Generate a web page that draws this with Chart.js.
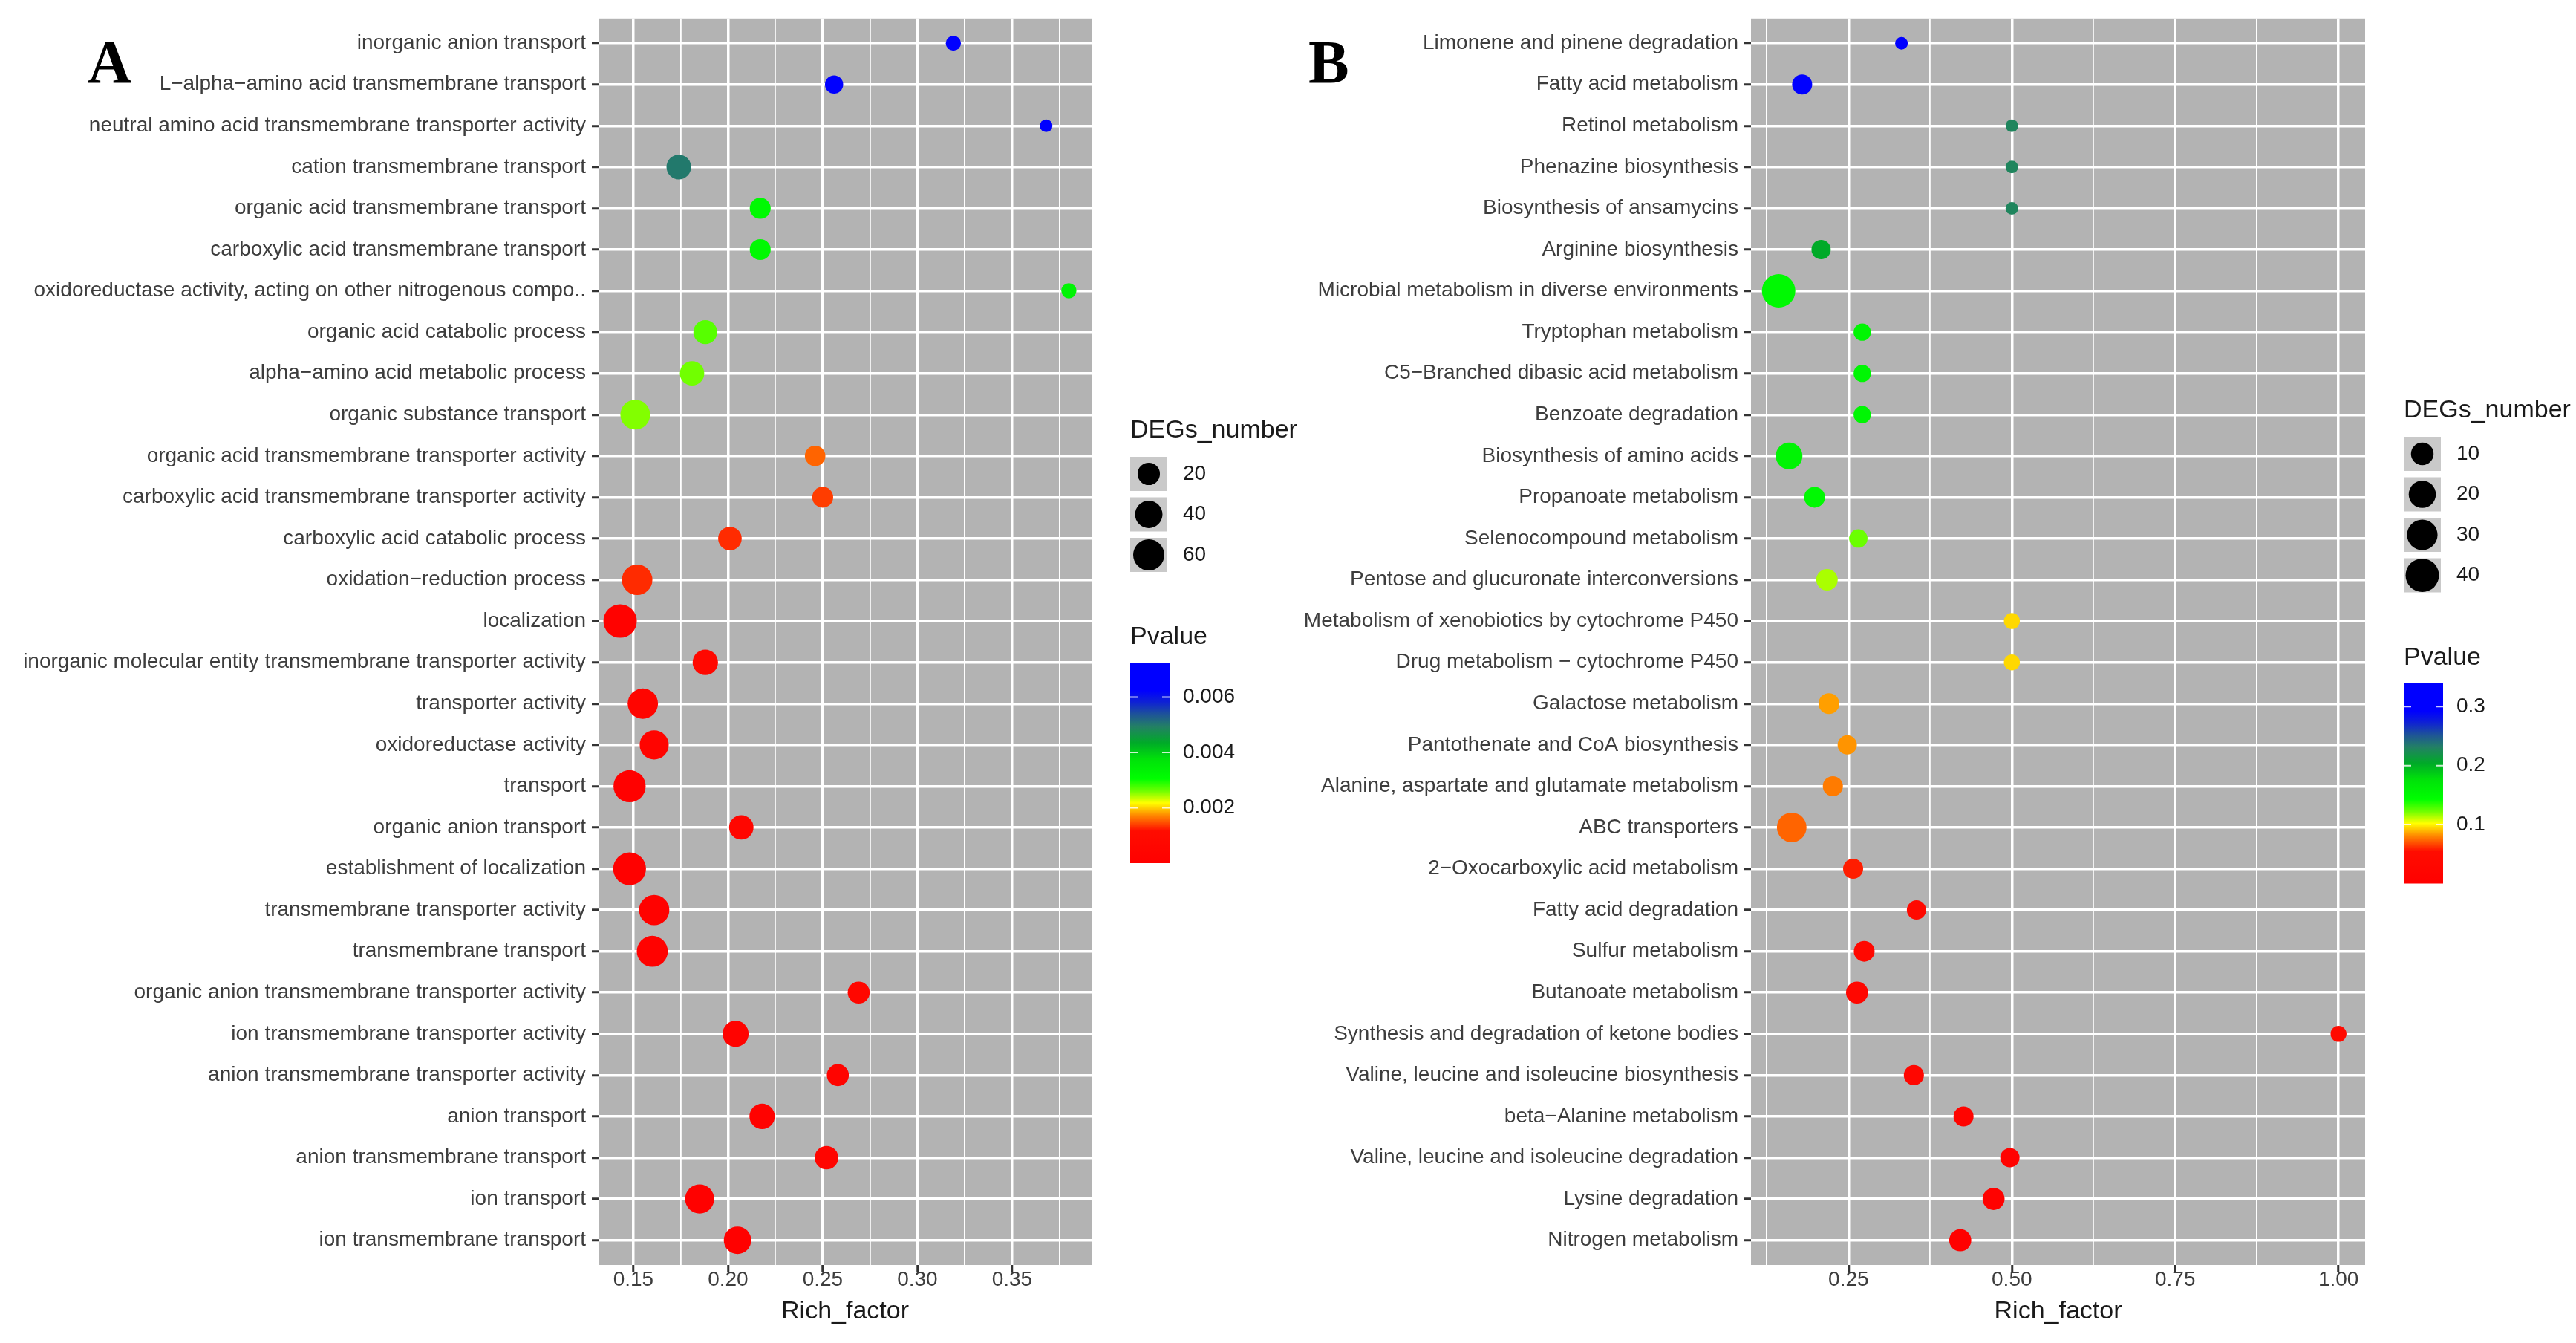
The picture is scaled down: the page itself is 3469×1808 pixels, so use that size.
<!DOCTYPE html>
<html>
<head>
<meta charset="utf-8">
<script src="https://cdn.jsdelivr.net/npm/chart.js@4.4.1/dist/chart.umd.min.js"></script>
<style>
  html, body { margin: 0; padding: 0; background: #fff; }
  #wrap { position: relative; width: 3469px; height: 1808px; }
  canvas { position: absolute; top: 0; }
  #chartA { left: 0; }
  #chartB { left: 1740px; }
</style>
</head>
<body>
<div id="wrap">
  <canvas id="chartA" width="1820" height="1808"></canvas>
  <canvas id="chartB" width="1729" height="1808"></canvas>
</div>
<script>
// ---- panel A: GO terms, top row first ----
const termsA = [
  "inorganic anion transport",
  "L\u2212alpha\u2212amino acid transmembrane transport",
  "neutral amino acid transmembrane transporter activity",
  "cation transmembrane transport",
  "organic acid transmembrane transport",
  "carboxylic acid transmembrane transport",
  "oxidoreductase activity, acting on other nitrogenous compo..",
  "organic acid catabolic process",
  "alpha\u2212amino acid metabolic process",
  "organic substance transport",
  "organic acid transmembrane transporter activity",
  "carboxylic acid transmembrane transporter activity",
  "carboxylic acid catabolic process",
  "oxidation\u2212reduction process",
  "localization",
  "inorganic molecular entity transmembrane transporter activity",
  "transporter activity",
  "oxidoreductase activity",
  "transport",
  "organic anion transport",
  "establishment of localization",
  "transmembrane transporter activity",
  "transmembrane transport",
  "organic anion transmembrane transporter activity",
  "ion transmembrane transporter activity",
  "anion transmembrane transporter activity",
  "anion transport",
  "anion transmembrane transport",
  "ion transport",
  "ion transmembrane transport"
];
const richA = [0.319, 0.256, 0.368, 0.174, 0.217, 0.217, 0.380, 0.188, 0.181, 0.151,
               0.246, 0.250, 0.201, 0.152, 0.143, 0.188, 0.155, 0.161, 0.148, 0.207,
               0.148, 0.161, 0.160, 0.269, 0.204, 0.258, 0.218, 0.252, 0.185, 0.205];
const countA = [6, 10, 5, 28, 16, 16, 6, 25, 27, 52,
                15, 16, 24, 56, 74, 31, 55, 48, 66, 27,
                70, 55, 59, 19, 34, 19, 31, 24, 48, 40];
const pvalA = [0.0068, 0.0066, 0.0072, 0.0050, 0.0032, 0.0032, 0.0033, 0.0027, 0.0026, 0.00255,
               0.00156, 0.00138, 0.0013, 0.0013, 0.0002, 0.0008, 0.0005, 0.0004, 0.0001, 0.0006,
               0.0001, 0.0002, 0.0002, 0.0007, 0.0003, 0.0004, 0.0002, 0.0005, 0.0001, 0.0001];
const majorTicksA = [0.15, 0.20, 0.25, 0.30, 0.35];
const minorTicksA = [0.175, 0.225, 0.275, 0.325, 0.375];
const sizeBreaksA = [20, 40, 60];
const pBreaksA = [0.002, 0.004, 0.006];
const pRangeA = [0, 0.00725];

// ---- panel B: KEGG pathways, top row first ----
const termsB = [
  "Limonene and pinene degradation",
  "Fatty acid metabolism",
  "Retinol metabolism",
  "Phenazine biosynthesis",
  "Biosynthesis of ansamycins",
  "Arginine biosynthesis",
  "Microbial metabolism in diverse environments",
  "Tryptophan metabolism",
  "C5\u2212Branched dibasic acid metabolism",
  "Benzoate degradation",
  "Biosynthesis of amino acids",
  "Propanoate metabolism",
  "Selenocompound metabolism",
  "Pentose and glucuronate interconversions",
  "Metabolism of xenobiotics by cytochrome P450",
  "Drug metabolism \u2212 cytochrome P450",
  "Galactose metabolism",
  "Pantothenate and CoA biosynthesis",
  "Alanine, aspartate and glutamate metabolism",
  "ABC transporters",
  "2\u2212Oxocarboxylic acid metabolism",
  "Fatty acid degradation",
  "Sulfur metabolism",
  "Butanoate metabolism",
  "Synthesis and degradation of ketone bodies",
  "Valine, leucine and isoleucine biosynthesis",
  "beta\u2212Alanine metabolism",
  "Valine, leucine and isoleucine degradation",
  "Lysine degradation",
  "Nitrogen metabolism"
];
const richB = [0.331, 0.179, 0.5, 0.5, 0.5, 0.208, 0.143, 0.271, 0.271, 0.271,
               0.159, 0.198, 0.265, 0.217, 0.5, 0.5, 0.220, 0.248, 0.226, 0.163,
               0.257, 0.354, 0.274, 0.263, 1.0, 0.350, 0.426, 0.497, 0.472, 0.421];
const countB = [1, 6, 1, 1, 1, 5, 40, 3, 3, 3,
                19, 7, 4, 8, 2, 2, 7, 5, 6, 27,
                6, 5, 7, 9, 2, 6, 6, 5, 9, 9];
const pvalB = [0.335, 0.31, 0.228, 0.228, 0.228, 0.204, 0.150, 0.153, 0.153, 0.153,
               0.155, 0.150, 0.123, 0.114, 0.095, 0.095, 0.085, 0.083, 0.078, 0.073,
               0.058, 0.040, 0.035, 0.030, 0.045, 0.025, 0.020, 0.015, 0.010, 0.005];
const majorTicksB = [0.25, 0.50, 0.75, 1.00];
const minorTicksB = [0.125, 0.375, 0.625, 0.875];
const sizeBreaksB = [10, 20, 30, 40];
const pBreaksB = [0.1, 0.2, 0.3];
const pRangeB = [0, 0.34];

const FONT = "'Liberation Sans', Arial, sans-serif";

// red -> yellow -> green -> blue ramp used for Pvalue
const rampStops = [
  [0.00, [255, 0, 0]],
  [0.16, [255, 12, 0]],
  [0.24, [255, 140, 0]],
  [0.30, [255, 255, 0]],
  [0.36, [110, 255, 0]],
  [0.42, [0, 255, 0]],
  [0.52, [0, 225, 10]],
  [0.60, [0, 170, 40]],
  [0.68, [35, 128, 100]],
  [0.74, [30, 85, 150]],
  [0.80, [15, 35, 210]],
  [0.86, [0, 0, 255]],
  [1.00, [0, 0, 255]]
];

function rampColor(f) {
  f = Math.max(0, Math.min(1, f));
  for (let i = 1; i < rampStops.length; i++) {
    const [f1, c1] = rampStops[i];
    const [f0, c0] = rampStops[i - 1];
    if (f <= f1) {
      const t = (f - f0) / (f1 - f0);
      const c = c0.map((v, k) => Math.round(v + (c1[k] - v) * t));
      return `rgb(${c[0]},${c[1]},${c[2]})`;
    }
  }
  return 'rgb(0,0,255)';
}

function makePanel(cfg) {
  const lo = Math.min(...cfg.counts), hi = Math.max(...cfg.counts);
  // ggplot-like area scaling between min and max point size
  const diam = n => cfg.dMin + (cfg.dMax - cfg.dMin) * Math.sqrt(Math.max(0, (n - lo) / (hi - lo)));
  const pFrac = p => (p - cfg.pRange[0]) / (cfg.pRange[1] - cfg.pRange[0]);
  const isMajor = v => cfg.majors.some(m => Math.abs(m - v) < 1e-9);

  const panelPlugin = {
    id: 'panel',
    beforeDraw(chart) {
      const { ctx, chartArea: a } = chart;
      ctx.save();
      ctx.fillStyle = '#b3b3b3';
      ctx.fillRect(a.left, a.top, a.right - a.left, a.bottom - a.top);
      ctx.restore();
    },
    afterDraw(chart) {
      const ctx = chart.ctx;
      const x = cfg.legendX;
      ctx.save();
      // panel letter
      ctx.fillStyle = '#000';
      ctx.font = "bold 82px 'Liberation Serif', 'Times New Roman', serif";
      ctx.textBaseline = 'alphabetic';
      ctx.textAlign = 'left';
      ctx.fillText(cfg.letter, cfg.letterX, 111);

      // size legend
      ctx.textBaseline = 'middle';
      ctx.fillStyle = '#1a1a1a';
      ctx.font = `34px ${FONT}`;
      ctx.fillText('DEGs_number', x, cfg.legendTop);
      const key = 50, step = 54.5;
      let y = cfg.legendTop + 35;
      cfg.sizeBreaks.forEach(b => {
        ctx.fillStyle = '#c9c9c9';
        ctx.fillRect(x, y, key, key - 4);
        ctx.fillStyle = '#000';
        ctx.beginPath();
        ctx.arc(x + key / 2, y + (key - 4) / 2, diam(b) / 2, 0, Math.PI * 2);
        ctx.fill();
        ctx.fillStyle = '#1a1a1a';
        ctx.font = `28px ${FONT}`;
        ctx.fillText(String(b), x + 71, y + (key - 4) / 2);
        y += step;
      });

      // colour bar
      const pTitleY = y - step + key + 84;
      ctx.font = `34px ${FONT}`;
      ctx.fillText('Pvalue', x, pTitleY);
      const barTop = pTitleY + 34, barH = 270, barW = 53, barBot = barTop + barH;
      const grad = ctx.createLinearGradient(0, barBot, 0, barTop);
      for (let k = 0; k <= 50; k++) grad.addColorStop(k / 50, rampColor(k / 50));
      ctx.fillStyle = grad;
      ctx.fillRect(x, barTop, barW, barH);
      ctx.strokeStyle = 'rgba(255,255,255,0.8)';
      ctx.lineWidth = 2;
      ctx.font = `28px ${FONT}`;
      ctx.fillStyle = '#1a1a1a';
      cfg.pBreaks.forEach(b => {
        const ty = barBot - pFrac(b) * barH;
        ctx.beginPath();
        ctx.moveTo(x, ty); ctx.lineTo(x + 10, ty);
        ctx.moveTo(x + barW - 10, ty); ctx.lineTo(x + barW, ty);
        ctx.stroke();
        ctx.fillText(b.toFixed(cfg.pDigits), x + 71, ty);
      });
      ctx.restore();
    }
  };

  return new Chart(document.getElementById(cfg.canvas), {
    type: 'scatter',
    data: {
      datasets: [{
        data: cfg.rich.map((v, i) => ({ x: v, y: i + 1 })),
        backgroundColor: c => rampColor(pFrac(cfg.pvals[c.dataIndex])),
        pointRadius: c => diam(cfg.counts[c.dataIndex]) / 2,
        pointHoverRadius: c => diam(cfg.counts[c.dataIndex]) / 2,
        borderWidth: 0
      }]
    },
    options: {
      responsive: false,
      animation: false,
      devicePixelRatio: 1,
      events: [],
      layout: { padding: { top: 22, right: cfg.padRight, left: 0, bottom: 0 } },
      plugins: { legend: { display: false }, tooltip: { enabled: false } },
      scales: {
        x: {
          type: 'linear',
          min: cfg.xMin,
          max: cfg.xMax,
          afterBuildTicks: s => {
            s.ticks = [...cfg.majors, ...cfg.minors].sort((a, b) => a - b).map(v => ({ value: v }));
          },
          afterFit: s => { s.height = 105; },
          border: { display: false },
          grid: {
            color: '#ffffff',
            lineWidth: c => (c.tick && isMajor(c.tick.value)) ? 3.5 : 1.8,
            tickLength: 10,
            tickWidth: 3,
            tickColor: c => (c.tick && isMajor(c.tick.value)) ? '#333333' : 'rgba(0,0,0,0)'
          },
          ticks: {
            autoSkip: false,
            maxRotation: 0,
            padding: -7,
            color: '#3d3d3d',
            font: { family: FONT, size: 28 },
            callback: v => isMajor(v) ? v.toFixed(2) : ''
          },
          title: {
            display: true,
            text: 'Rich_factor',
            color: '#1a1a1a',
            font: { family: FONT, size: 34, lineHeight: 1.2 },
            padding: { top: 0, bottom: 22 }
          }
        },
        y: {
          type: 'linear',
          reverse: true,
          min: 0.4,
          max: cfg.terms.length + 0.6,
          afterBuildTicks: s => {
            s.ticks = cfg.terms.map((t, i) => ({ value: i + 1 }));
          },
          afterFit: s => { s.width = cfg.axisWidth; },
          border: { display: false },
          grid: {
            color: '#ffffff',
            lineWidth: 3.5,
            tickLength: 9,
            tickWidth: 3,
            tickColor: '#333333'
          },
          ticks: {
            autoSkip: false,
            padding: 8,
            color: '#3d3d3d',
            font: { family: FONT, size: 28 },
            callback: v => cfg.terms[Math.round(v) - 1]
          }
        }
      }
    },
    plugins: [panelPlugin]
  });
}

makePanel({
  canvas: 'chartA', letter: 'A', letterX: 118,
  terms: termsA, rich: richA, counts: countA, pvals: pvalA,
  majors: majorTicksA, minors: minorTicksA, xMin: 0.1316, xMax: 0.392,
  axisWidth: 806, padRight: 350,
  sizeBreaks: sizeBreaksA, pBreaks: pBreaksA, pRange: pRangeA, pDigits: 3,
  legendX: 1522, legendTop: 580, dMin: 17, dMax: 45
});

makePanel({
  canvas: 'chartB', letter: 'B', letterX: 22,
  terms: termsB, rich: richB, counts: countB, pvals: pvalB,
  majors: majorTicksB, minors: minorTicksB, xMin: 0.1007, xMax: 1.0407,
  axisWidth: 618, padRight: 284,
  sizeBreaks: sizeBreaksB, pBreaks: pBreaksB, pRange: pRangeB, pDigits: 1,
  legendX: 1497, legendTop: 553, dMin: 17, dMax: 45
});
</script>
</body>
</html>
